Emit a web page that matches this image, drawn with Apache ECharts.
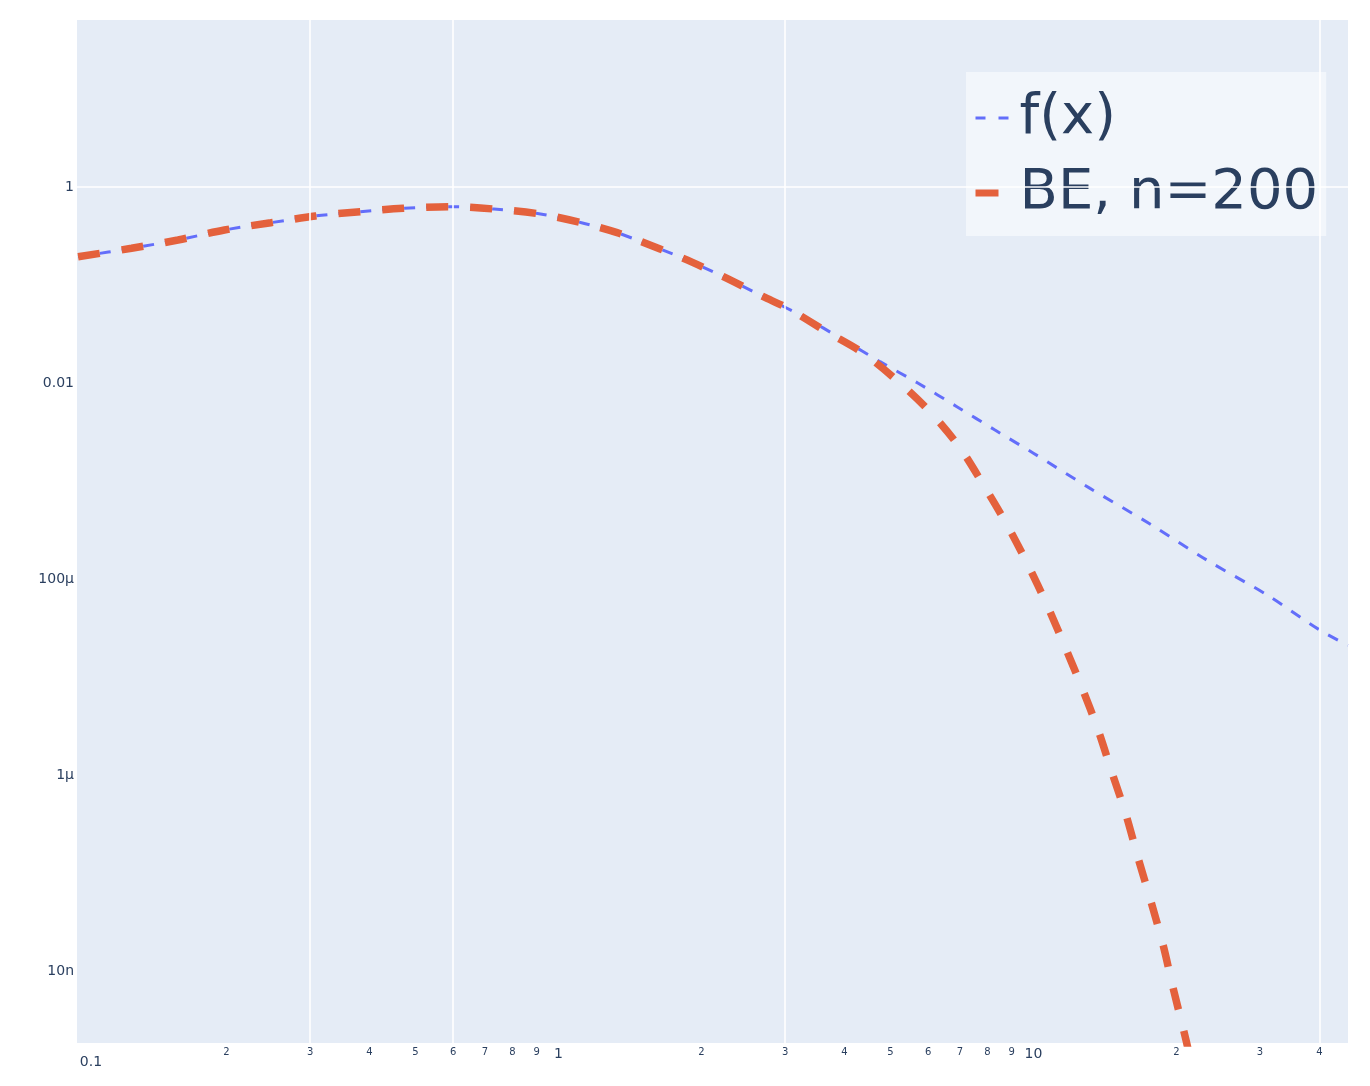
<!DOCTYPE html>
<html>
<head>
<meta charset="utf-8">
<script src="https://cdn.jsdelivr.net/npm/echarts@6/dist/echarts.min.js"></script>
<style>html,body{margin:0;padding:0;background:#fff;}#chart{width:1370px;height:1086px;}</style>
</head>
<body>
<div id="chart"></div>
<script>
// ---- data ----
const fX = [0.0974, 0.1262, 0.1581, 0.198, 0.2479, 0.3078, 0.3823, 0.4708, 0.5893, 0.7313, 0.9165, 1.118, 1.329, 1.462, 1.832, 2.224, 2.701, 3.279, 3.98, 4.754, 5.72, 6.90, 8.30, 10.0, 13.16, 17.6, 23.17, 30.99, 40.13, 45.95];
const fY = [0.194, 0.237, 0.288, 0.364, 0.432, 0.506, 0.560, 0.606, 0.630, 0.596, 0.530, 0.432, 0.342, 0.288, 0.187, 0.1215, 0.076, 0.0475, 0.0275, 0.0165, 0.00993, 0.00573, 0.00331, 0.00192, 8.4e-4, 3.64e-4, 1.56e-4, 6.9e-5, 3.0e-5, 2.1e-5];

const beX = [0.0974, 0.1262, 0.1581, 0.198, 0.2479, 0.3078, 0.3823, 0.4708, 0.5893, 0.7313, 0.9165, 1.118, 1.329, 1.462, 1.832, 2.224, 2.701, 3.03, 3.68, 4.38, 5.21, 6.09, 7.01, 7.87, 8.80, 9.74, 10.68, 11.66, 12.66, 13.68, 14.64, 15.67, 16.61, 17.69, 18.75, 19.68, 20.75, 21.3];
const beY = [0.194, 0.237, 0.288, 0.364, 0.432, 0.506, 0.560, 0.606, 0.630, 0.596, 0.530, 0.432, 0.342, 0.288, 0.187, 0.1215, 0.076, 0.0583, 0.0331, 0.0202, 0.0102, 0.00494, 0.00217, 8.9e-4, 3.56e-4, 1.39e-4, 5.43e-5, 2.02e-5, 7.72e-6, 2.88e-6, 1.05e-6, 3.9e-7, 1.42e-7, 5.06e-8, 1.84e-8, 6.7e-9, 2.39e-9, 1.4e-9];

const seriesNames = ['f(x)', 'BE, n=200'];

// axis ranges
const X_MIN = 0.0969, X_MAX = 45.95;
const Y_MIN = 1.84e-9, Y_MAX = 50.6;

// tick labels
const xTickValues = [0.1, 0.2, 0.3, 0.4, 0.5, 0.6, 0.7, 0.8, 0.9, 1, 2, 3, 4, 5, 6, 7, 8, 9, 10, 20, 30, 40];
const xTickLabels = ['0.1', '2', '3', '4', '5', '6', '7', '8', '9', '1', '2', '3', '4', '5', '6', '7', '8', '9', '10', '2', '3', '4'];
const xTickMajor = [0.1, 1, 10];
const yTickValues = [1, 0.01, 1e-4, 1e-6, 1e-8];
const yTickLabels = ['1', '0.01', '100μ', '1μ', '10n'];

// grid lines visible in the reference
const xGridValues = [0.3, 0.6, 3, 40];
const yGridValues = [1, 1e-6];

const L = Math.log10;
const FONT = 'DejaVu Sans';
const TXT = '#2a3f5f';
const BLUE = '#636EFA';
const RED = '#E4613C';

function xFmt(v) {
  for (let i = 0; i < xTickValues.length; i++) {
    if (Math.abs(L(xTickValues[i]) - v) < 1e-6) {
      const t = xTickValues[i];
      if (i === 0) return '{first|' + xTickLabels[i] + '}';
      if (xTickMajor.indexOf(t) >= 0) return '{maj|' + xTickLabels[i] + '}';
      return '{mn|' + xTickLabels[i] + '}';
    }
  }
  return '';
}
function yFmt(v) {
  for (let i = 0; i < yTickValues.length; i++) {
    if (Math.abs(L(yTickValues[i]) - v) < 1e-6) return yTickLabels[i];
  }
  return '';
}

const chart = echarts.init(document.getElementById('chart'), null, {renderer: 'canvas'});
const hidden = {axisLine: {show: false}, axisTick: {show: false}, axisLabel: {show: false}, splitLine: {show: false}};

const gridMarks = xGridValues.map(v => ({xAxis: v})).concat(yGridValues.map(v => ({yAxis: v})));

chart.setOption({
  animation: false,
  textStyle: {fontFamily: FONT},
  grid: {left: 77, top: 20, width: 1271, height: 1023, show: true, backgroundColor: '#E5ECF6', borderWidth: 0, containLabel: false},
  xAxis: [
    Object.assign({type: 'log', logBase: 10, min: X_MIN, max: X_MAX, position: 'top'}, hidden),
    {
      type: 'value', min: L(X_MIN), max: L(X_MAX), position: 'bottom',
      axisLine: {show: false}, axisTick: {show: false}, splitLine: {show: false},
      axisLabel: {
        show: true, customValues: xTickValues.map(L), formatter: xFmt, margin: 4, color: TXT,
        rich: {
          mn: {fontSize: 10, color: TXT, fontFamily: FONT},
          maj: {fontSize: 14, color: TXT, fontFamily: FONT},
          first: {fontSize: 14, color: TXT, fontFamily: FONT, padding: [8, 0, 0, 15]}
        }
      }
    }
  ],
  yAxis: [
    Object.assign({type: 'log', logBase: 10, min: Y_MIN, max: Y_MAX, position: 'right'}, hidden),
    {
      type: 'value', min: L(Y_MIN), max: L(Y_MAX), position: 'left',
      axisLine: {show: false}, axisTick: {show: false}, splitLine: {show: false},
      axisLabel: {show: true, customValues: yTickValues.map(L), formatter: yFmt, margin: 3, color: TXT, fontSize: 14, fontFamily: FONT}
    }
  ],
  legend: {
    orient: 'vertical', left: 966, top: 72,
    padding: [11, 8, 8, 6], itemGap: 5, itemWidth: 33, itemHeight: 14,
    backgroundColor: 'rgba(255,255,255,0.5)',
    itemStyle: {opacity: 0},
    data: [
      {name: seriesNames[0], lineStyle: {color: BLUE, width: 3, type: [10, 13], opacity: 1}},
      {name: seriesNames[1], lineStyle: {color: RED, width: 7, type: [23, 20], opacity: 1}}
    ],
    textStyle: {fontFamily: FONT, fontSize: 56, color: TXT, lineHeight: 64, padding: [6, 0, 0, 6]}
  },
  series: [
    {
      name: '__grid', type: 'line', xAxisIndex: 0, yAxisIndex: 0, data: [], z: 1, silent: true,
      markLine: {silent: true, symbol: ['none', 'none'], label: {show: false}, animation: false,
        lineStyle: {color: '#ffffff', width: 1.6, type: 'solid', opacity: 1}, emphasis: {disabled: true},
        data: gridMarks}
    },
    {
      name: seriesNames[0], type: 'line', xAxisIndex: 0, yAxisIndex: 0, z: 3,
      data: fX.map((x, i) => [x, fY[i]]), symbol: 'none', showSymbol: false, smooth: 0.3,
      lineStyle: {color: BLUE, width: 3, type: [11, 11]}, itemStyle: {color: BLUE}
    },
    {
      name: seriesNames[1], type: 'line', xAxisIndex: 0, yAxisIndex: 0, z: 4,
      data: beX.map((x, i) => [x, beY[i]]), symbol: 'none', showSymbol: false, smooth: 0.3,
      lineStyle: {color: RED, width: 7.5, type: [22, 22]}, itemStyle: {color: RED}
    }
  ]
});
</script>
</body>
</html>
